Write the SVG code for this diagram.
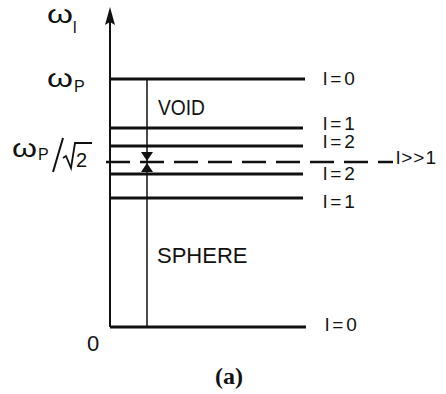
<svg xmlns="http://www.w3.org/2000/svg" width="446" height="394" viewBox="0 0 446 394">
<defs>
<style>
.lvl{stroke:#111;stroke-width:3;fill:none}
.lab{font-family:"Liberation Sans",Arial,sans-serif;font-size:22px;fill:#111}
.rl{font-family:"Liberation Sans",Arial,sans-serif;font-size:19px;fill:#111;letter-spacing:3px}
.om{font-family:"Liberation Sans",Arial,sans-serif;font-size:25px;fill:#111}
.sub{font-family:"Liberation Sans",Arial,sans-serif;font-size:16px;fill:#111}
</style>
</defs>
<rect width="446" height="394" fill="#fff"/>
<g id="axis">
<line x1="110" y1="327" x2="110" y2="20" stroke="#111" stroke-width="2"/>
<polygon points="110,7 115,25 110,22 105,25" fill="#111"/>
<text class="om" x="47" y="23" textLength="26" lengthAdjust="spacingAndGlyphs">ω</text>
<text class="sub" x="73" y="33">l</text>
<text class="lab" x="87" y="351">0</text>
</g>
<g id="connectors">
<line x1="147" y1="79" x2="147" y2="327" stroke="#111" stroke-width="1.5"/>
<line x1="106" y1="162" x2="393" y2="162" stroke="#111" stroke-width="2.5" stroke-dasharray="24,10"/>
<polygon points="141,152 153,152 147,161" fill="#111"/>
<polygon points="141,172 153,172 147,163" fill="#111"/>
</g>
<g id="level-l0-top">
<line class="lvl" x1="110" y1="79" x2="305" y2="79"/>
<text class="om" x="47" y="87" textLength="26" lengthAdjust="spacingAndGlyphs">ω</text>
<text class="sub" x="74" y="92">P</text>
<text class="rl" x="323" y="85">l=0</text>
</g>
<g id="void">
<text class="lab" x="158" y="115" textLength="47" lengthAdjust="spacingAndGlyphs">VOID</text>
</g>
<g id="level-l1-top">
<line class="lvl" x1="110" y1="128" x2="303" y2="128"/>
<text class="rl" x="323" y="130">l=1</text>
</g>
<g id="level-l2-top">
<line class="lvl" x1="110" y1="146" x2="303" y2="146"/>
<text class="rl" x="323" y="148">l=2</text>
</g>
<g id="level-inf">
<text class="om" x="12" y="157" textLength="25" lengthAdjust="spacingAndGlyphs">ω</text>
<text class="sub" x="38" y="160">P</text>
<line x1="63" y1="138" x2="53" y2="172" stroke="#111" stroke-width="2"/>
<polyline points="63,158 66,156 71,168 75,143 92,143" fill="none" stroke="#111" stroke-width="1.8"/>
<text class="lab" x="76" y="167" style="font-size:20px">2</text>
<text class="rl" x="396" y="164" style="letter-spacing:1px">l&gt;&gt;1</text>
</g>
<g id="level-l2-bottom">
<line class="lvl" x1="110" y1="174" x2="303" y2="174"/>
<text class="rl" x="323" y="180">l=2</text>
</g>
<g id="level-l1-bottom">
<line class="lvl" x1="110" y1="198" x2="303" y2="198"/>
<text class="rl" x="323" y="208">l=1</text>
</g>
<g id="sphere">
<text class="lab" x="157" y="263">SPHERE</text>
</g>
<g id="level-l0-bottom">
<line class="lvl" x1="110" y1="327" x2="306" y2="327"/>
<text class="rl" x="325" y="331">l=0</text>
</g>
<text x="215" y="384" font-family="Liberation Serif,serif" font-weight="bold" font-size="24" fill="#111">(a)</text>
</svg>
